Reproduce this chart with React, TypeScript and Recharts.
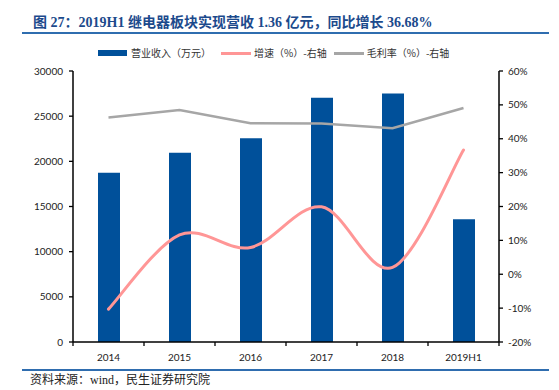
import { ComposedChart, Bar, Line, XAxis, YAxis } from 'recharts';

// 2019H1 relay segment revenue, growth and gross margin
const categories = ['2014', '2015', '2016', '2017', '2018', '2019H1'];
const revenue = [18750, 20950, 22550, 27050, 27500, 13600]; // 万元
const growth = [-10.3, 11.6, 7.9, 19.9, 2.0, 36.68]; // %
const grossMargin = [46.3, 48.5, 44.6, 44.5, 43.1, 49.1]; // %

const leftTicks = [0, 5000, 10000, 15000, 20000, 25000, 30000];
const rightTicks = [-20, -10, 0, 10, 20, 30, 40, 50, 60];

const seriesNames = ['营业收入（万元）', '增速（%）-右轴', '毛利率（%）-右轴'];

const BLUE = '#00509A';
const PINK = '#FF9696';
const GRAY = '#A6A6A6';
const RULE = '#2F6DAF';
const TICK_FONT = 'Lato, "Noto Sans", sans-serif';
const CJK_FONT = '"Liberation Serif", "Noto Sans CJK SC", serif';

const data = categories.map((c, i) => ({
  name: c,
  revenue: revenue[i],
  growth: growth[i],
  margin: grossMargin[i],
}));

// Excel-like smoothed line (Catmull-Rom through every point)
const smoothCurve = (context: any) => {
  let pts: [number, number][] = [];
  return {
    areaStart() {},
    areaEnd() {},
    lineStart() {
      pts = [];
    },
    lineEnd() {
      if (!pts.length) return;
      context.moveTo(pts[0][0], pts[0][1]);
      for (let i = 0; i < pts.length - 1; i++) {
        const p0 = pts[i - 1] || pts[i];
        const p1 = pts[i];
        const p2 = pts[i + 1];
        const p3 = pts[i + 2] || p2;
        context.bezierCurveTo(
          p1[0] + (p2[0] - p0[0]) / 6,
          p1[1] + (p2[1] - p0[1]) / 6,
          p2[0] - (p3[0] - p1[0]) / 6,
          p2[1] - (p3[1] - p1[1]) / 6,
          p2[0],
          p2[1]
        );
      }
    },
    point(x: number, y: number) {
      pts.push([+x, +y]);
    },
  };
};

const HALF_BAND = (499 - 73) / categories.length / 2;

const XTick = (props: any) => {
  const { x, y, payload, index } = props;
  const axisY = y - 8;
  return (
    <g>
      <line x1={x - HALF_BAND} x2={x - HALF_BAND} y1={axisY} y2={axisY + 4} stroke="#000" strokeWidth={1.3} />
      {index === categories.length - 1 && (
        <line x1={x + HALF_BAND} x2={x + HALF_BAND} y1={axisY} y2={axisY + 4} stroke="#000" strokeWidth={1.3} />
      )}
      <text x={x} y={y + 11} textAnchor="middle" fontSize={10} fontFamily={TICK_FONT} fill="#222">
        {payload.value}
      </text>
    </g>
  );
};

export default function App() {
  return (
    <div style={{ position: 'relative', width: 559, height: 390, background: '#fff', overflow: 'hidden' }}>
      <style>{`body{margin:0}`}</style>
      <div
        style={{
          position: 'absolute',
          left: 33,
          top: 14,
          fontSize: 14,
          fontWeight: 'bold',
          color: '#1C4A8C',
          fontFamily: CJK_FONT,
          whiteSpace: 'nowrap',
          lineHeight: '18px',
        }}
      >
        图 27：2019H1 继电器板块实现营收 1.36 亿元，同比增长 36.68%
      </div>
      <div style={{ position: 'absolute', left: 22, top: 32, width: 527, height: 2, background: RULE }} />

      {/* legend */}
      <div
        style={{
          position: 'absolute',
          top: 46,
          left: 98,
          display: 'flex',
          alignItems: 'center',
          fontSize: 10,
          color: '#333',
          fontFamily: '"Noto Sans CJK SC", sans-serif',
          whiteSpace: 'nowrap',
          lineHeight: '14px',
        }}
      >
        <span style={{ display: 'inline-block', width: 29, height: 6, background: BLUE, marginRight: 4 }} />
        <span style={{ marginRight: 10 }}>{seriesNames[0]}</span>
        <span style={{ display: 'inline-block', width: 30, height: 3, background: PINK, marginRight: 3 }} />
        <span style={{ marginRight: 7 }}>{seriesNames[1]}</span>
        <span style={{ display: 'inline-block', width: 30, height: 3, background: GRAY, marginRight: 3 }} />
        <span>{seriesNames[2]}</span>
      </div>

      <div style={{ position: 'absolute', left: 0, top: 0 }}>
        <ComposedChart
          width={559}
          height={390}
          data={data}
          margin={{ top: 71, right: 10, bottom: 18, left: 23 }}
          barSize={22}
        >
          <XAxis
            dataKey="name"
            xAxisId="x"
            axisLine={{ stroke: '#000', strokeWidth: 1.5 }}
            tickLine={false}
            tick={<XTick />}
            height={30}
            interval={0}
          />
          <YAxis
            yAxisId="left"
            orientation="left"
            width={50}
            domain={[0, 30000]}
            ticks={leftTicks}
            interval={0}
            axisLine={{ stroke: '#000', strokeWidth: 1.5 }}
            tickLine={{ stroke: '#000', strokeWidth: 1.3 }}
            tickSize={4}
            tickMargin={6}
            tick={{ fontSize: 10, fontFamily: TICK_FONT, fill: '#222' }}
          />
          <YAxis
            yAxisId="right"
            orientation="right"
            width={50}
            domain={[-20, 60]}
            ticks={rightTicks}
            interval={0}
            tickFormatter={(v: number) => `${v}%`}
            axisLine={{ stroke: '#000', strokeWidth: 1.5 }}
            tickLine={{ stroke: '#000', strokeWidth: 1.3 }}
            tickSize={4}
            tickMargin={5}
            tick={{ fontSize: 10, fontFamily: TICK_FONT, fill: '#222' }}
          />
          <Bar xAxisId="x" yAxisId="left" dataKey="revenue" fill={BLUE} isAnimationActive={false} />
          <Line
            xAxisId="x"
            yAxisId="right"
            dataKey="margin"
            type="linear"
            stroke={GRAY}
            strokeWidth={2.5}
            dot={false}
            activeDot={false}
            isAnimationActive={false}
          />
          <Line
            xAxisId="x"
            yAxisId="right"
            dataKey="growth"
            type={smoothCurve as any}
            stroke={PINK}
            strokeWidth={3}
            strokeLinecap="round"
            dot={false}
            activeDot={false}
            isAnimationActive={false}
          />
        </ComposedChart>
      </div>

      <div style={{ position: 'absolute', left: 22, top: 369, width: 527, height: 2, background: RULE }} />
      <div
        style={{
          position: 'absolute',
          left: 30,
          top: 372,
          fontSize: 12,
          color: '#222',
          fontFamily: CJK_FONT,
          whiteSpace: 'nowrap',
          lineHeight: '16px',
        }}
      >
        资料来源：wind，民生证券研究院
      </div>
    </div>
  );
}
